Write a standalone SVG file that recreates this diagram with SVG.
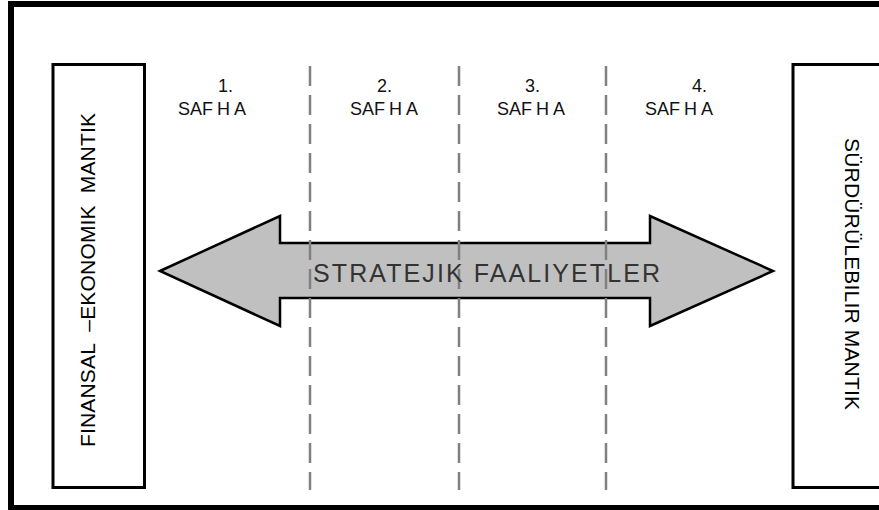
<svg xmlns="http://www.w3.org/2000/svg" width="879" height="510" viewBox="0 0 879 510">
<style>
.box{fill:#fff;stroke:#000;stroke-width:3}
.lbl{font-family:"Liberation Sans",Arial,sans-serif;fill:#000}
.ph{font-family:"Liberation Sans",Arial,sans-serif;font-size:18px;fill:#111}
.dash{stroke:#808080;stroke-width:2.5;stroke-dasharray:20 9;fill:none}
</style>
<rect x="0" y="0" width="879" height="510" fill="#fff"/>
<rect id="frame" x="11" y="4" width="900" height="504" fill="none" stroke="#000" stroke-width="6"/>
<g id="left-box">
<rect class="box" x="53" y="64.5" width="91.5" height="423"/>
<text class="lbl" font-size="21" text-anchor="middle" style="white-space:pre" transform="translate(95,280) rotate(-90)" textLength="334" lengthAdjust="spacing">FINANSAL  –EKONOMIK  MANTIK</text>
</g>
<g id="right-box">
<rect class="box" x="793" y="64.5" width="120" height="423"/>
<text class="lbl" font-size="21" text-anchor="middle" transform="translate(845,274) rotate(90)" textLength="272" lengthAdjust="spacing">SÜRDÜRÜLEBILIR MANTIK</text>
</g>
<g id="arrow">
<polygon points="160,271 280,216 280,243 650,243 650,216 773,271 650,326 650,298 280,298 280,326" fill="#c0c0c0" stroke="#000" stroke-width="2.5" stroke-linejoin="miter"/>
</g>
<g id="connectors">
<line class="dash" x1="310" y1="66" x2="310" y2="490"/>
<line class="dash" x1="459" y1="66" x2="459" y2="490"/>
<line class="dash" x1="606" y1="66" x2="606" y2="490"/>
</g>
<g id="arrow-label">
<text font-family="'Liberation Sans',Arial,sans-serif" font-size="25" fill="#333" x="313" y="282" textLength="347" lengthAdjust="spacing">STRATEJIK FAALIYETLER</text>
</g>
<g id="phase1">
<text class="ph" x="218" y="92">1.</text>
<text class="ph" x="178" y="115">SAF<tspan dx="4">H</tspan><tspan dx="4">A</tspan></text>
</g>
<g id="phase2">
<text class="ph" x="377" y="92">2.</text>
<text class="ph" x="350" y="115">SAF<tspan dx="4">H</tspan><tspan dx="4">A</tspan></text>
</g>
<g id="phase3">
<text class="ph" x="525" y="92">3.</text>
<text class="ph" x="497" y="115">SAF<tspan dx="4">H</tspan><tspan dx="4">A</tspan></text>
</g>
<g id="phase4">
<text class="ph" x="692" y="92">4.</text>
<text class="ph" x="645" y="115">SAF<tspan dx="4">H</tspan><tspan dx="4">A</tspan></text>
</g>
</svg>
